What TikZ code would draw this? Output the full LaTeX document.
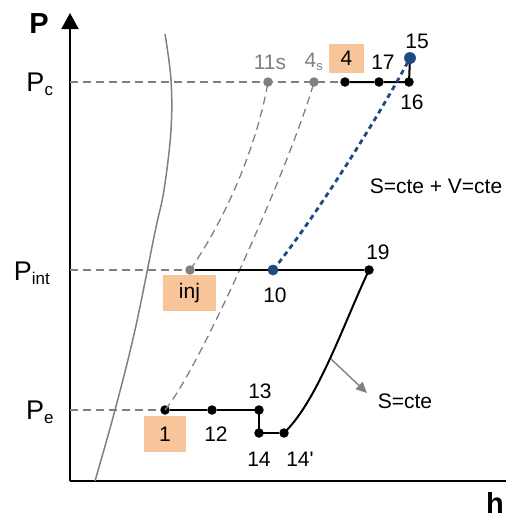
\documentclass[tikz,border=0pt]{standalone}
\usepackage{fontspec}
\setmainfont{Liberation Sans}
\usetikzlibrary{arrows.meta}
\definecolor{orbox}{HTML}{F8C59A}
\definecolor{dblue}{HTML}{1F4A82}
\definecolor{gline}{HTML}{808080}
\begin{document}
\begin{tikzpicture}[x=1pt,y=-1pt,
  lbl/.style={font=\fontsize{21}{21}\selectfont, inner sep=0pt},
  glbl/.style={lbl, text=gline},
  bdot/.style={circle, fill=black, inner sep=0pt, minimum size=9.5pt},
  gdot/.style={circle, fill=gline, inner sep=0pt, minimum size=9.5pt},
  bldot/.style={circle, fill=dblue, inner sep=0pt, minimum size=11.5pt},
  obox/.style={fill=orbox, inner sep=0pt, font=\fontsize{21}{21}\selectfont},
  hdash/.style={gline, line width=1.3pt, dash pattern=on 8pt off 5pt},
  cline/.style={black, line width=2pt},
  axis/.style={black, line width=2pt},
  plab/.style={font=\fontsize{27}{27}\selectfont, inner sep=0pt}
]
\useasboundingbox (0,0) rectangle (507,520);
% axes
\coordinate (O) at (70,481);
\coordinate (ytop) at (70,13);
\coordinate (xend) at (506,481);
\draw[axis, -{Triangle[length=16pt,width=17pt]}] (O) -- (ytop);
\draw[axis] (O) -- (xend);
\node[font=\bfseries\fontsize{29}{29}\selectfont, inner sep=0pt] (Plab) at (39,24) {P};
\node[font=\bfseries\fontsize{29}{29}\selectfont, inner sep=0pt] (hlab) at (495,503) {h};
% pressure labels
\node[plab] (Pc) at (40,84) {P\textsubscript{\fontsize{17}{17}\selectfont c}};
\node[plab] (Pint) at (32,273) {P\textsubscript{\fontsize{17}{17}\selectfont int}};
\node[plab] (Pe) at (40,412) {P\textsubscript{\fontsize{17}{17}\selectfont e}};
% saturation curve
\draw[gline, line width=1.5pt] plot[smooth, tension=0.6] coordinates {(165,34) (171,80) (171,130) (164,190) (155,232) (135,330) (115,410) (95,481)};
% points
\coordinate (yc) at (70,82);
\coordinate (yi) at (70,270);
\coordinate (ye) at (70,410);
\node[gdot] (p11s) at (268,82) {};
\node[gdot] (p4s) at (314,82) {};
\node[bdot] (p4) at (345,82) {};
\node[bdot] (p17) at (379,82) {};
\node[bdot] (p16) at (409,82) {};
\node[bldot] (p15) at (410,58) {};
\node[gdot] (pinj) at (190,270) {};
\node[bldot, minimum size=10.5pt] (p10) at (273,270) {};
\node[bdot] (p19) at (369,270) {};
\node[bdot] (p1) at (165,410) {};
\node[bdot] (p12) at (212,410) {};
\node[bdot] (p13) at (259,410) {};
\node[bdot] (p14) at (259,433) {};
\node[bdot] (p14p) at (284,433) {};
% dashed isobars
\draw[hdash] (yc) -- (p4);
\draw[hdash] (yi) -- (pinj);
\draw[hdash] (ye) -- (p1);
% dashed curves
\draw[hdash] (pinj.center) .. controls (230,212) and (258,140) .. (p11s.center);
\draw[hdash] (p1.center) .. controls (200,368) and (292,160) .. (p4s.center);
% solid lines
\draw[cline] (p4) -- (p17) -- (p16.center) -- (p15.center);
\draw[cline] (pinj) -- (p19);
\draw[cline] (p1) -- (p12) -- (p13.center) -- (p14.center) -- (p14p);
\draw[cline] (p19.center) .. controls (343,325) and (318,400) .. (p14p.center);
% blue dotted
\draw[dblue, line width=2.8pt, dash pattern=on 5pt off 4pt] (p10.center) .. controls (312,222) and (378,118) .. (p15.center);
\node[bldot] at (p15) {};
\node[bldot, minimum size=10.5pt] at (p10) {};
% labels
\node[glbl] (l11s) at (270,62) {11s};
\node[glbl] (l4s) at (314,62) {4\textsubscript{\fontsize{13}{13}\selectfont s}};
\node[obox, minimum width=35pt, minimum height=29pt] (l4) at (346.5,58.5) {4};
\node[lbl] (l17) at (383,62) {17};
\node[lbl] (l16) at (412,102) {16};
\node[lbl] (l15) at (417,41) {15};
\node[obox, minimum width=53pt, minimum height=36pt] (linj) at (189.5,293) {inj};
\node[lbl] (l10) at (275,295) {10};
\node[lbl] (l19) at (378,252) {19};
\node[obox, minimum width=42pt, minimum height=36pt] (l1) at (165,434) {1};
\node[lbl] (l12) at (216,434) {12};
\node[lbl] (l13) at (260,391) {13};
\node[lbl] (l14) at (259,459) {14};
\node[lbl] (l14p) at (300,459) {14\textquotesingle};
\node[lbl] (lsv) at (436,186) {S=cte + V=cte};
\node[lbl] (lsc) at (405,401) {S=cte};
\coordinate (arrs) at (331,359);
\draw[gline, line width=1.4pt, -{Triangle[length=11pt,width=10pt]}] (arrs) -- (367,393);
\end{tikzpicture}
\end{document}
